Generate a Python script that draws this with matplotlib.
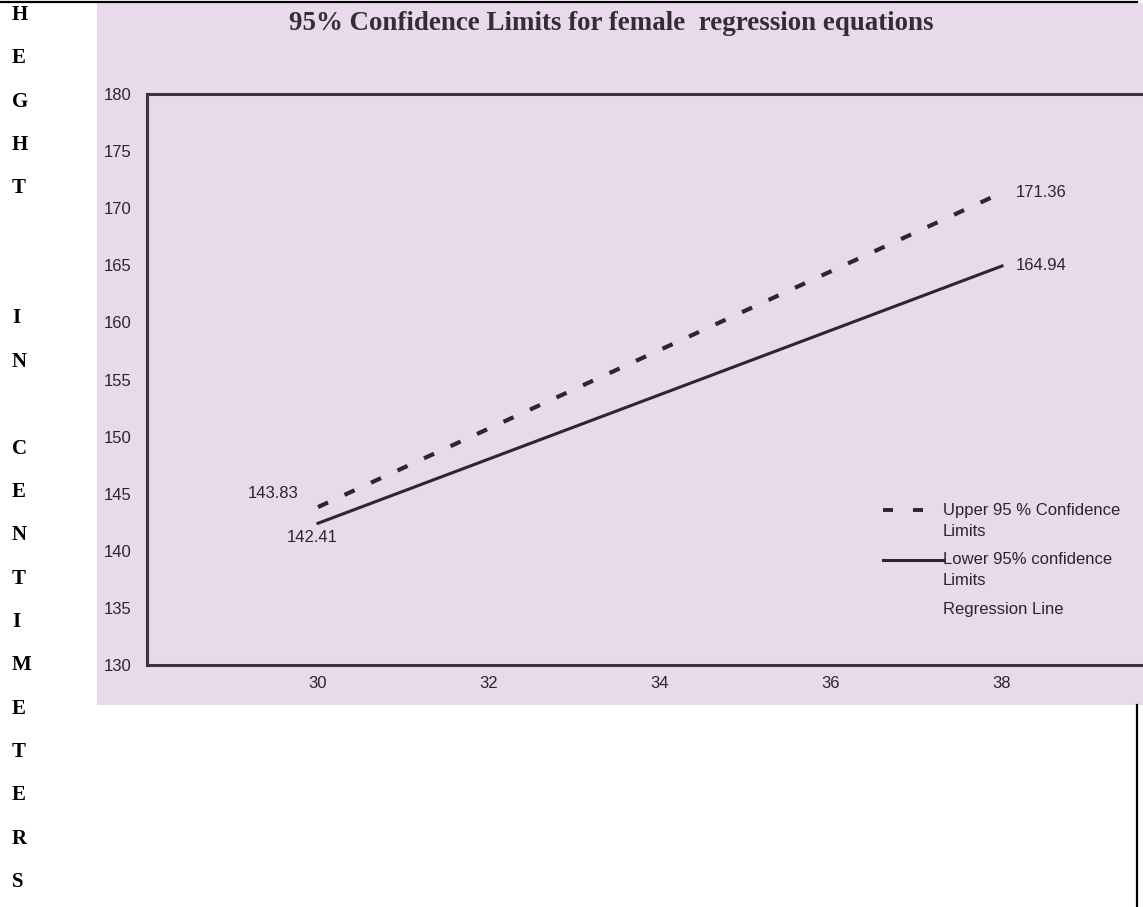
import numpy as np
import matplotlib
matplotlib.use("Agg")
import matplotlib.pyplot as plt
from matplotlib.lines import Line2D
from matplotlib.patches import Rectangle
from matplotlib.legend_handler import HandlerLine2D

# ---- data -------------------------------------------------------------
x_values = [30, 38]
upper_limits = [143.83, 171.36]
lower_limits = [142.41, 164.94]
x_ticks = [30, 32, 34, 36, 38]
y_ticks = [130, 135, 140, 145, 150, 155, 160, 165, 170, 175, 180]

title = "95% Confidence Limits for female  regression equations"
side_label = "HEGHT  IN CENTIMETERS"
upper_label = "Upper 95 % Confidence\nLimits"
lower_label = "Lower 95% confidence\nLimits"
regression_label = "Regression Line"

# ---- layout helpers (pixel -> figure fraction) -------------------------
W, H = 1143, 907
def fx(px):
    return px / W
def fy(py):
    return 1 - py / H

paper = "#e8d9eb"
ink = "#2a252b"
sans = ["Liberation Sans", "DejaVu Sans"]
serif = ["Liberation Serif", "DejaVu Serif"]

fig = plt.figure(figsize=(W / 100, H / 100), dpi=100)
fig.patch.set_facecolor("white")

# tinted page region holding the chart
fig.add_artist(Rectangle((fx(97), fy(705)), 1 - fx(97), fy(3) - fy(705),
                         transform=fig.transFigure, facecolor=paper,
                         edgecolor="none", zorder=0))
# rules of the surrounding table
fig.add_artist(Line2D([0, fx(1137)], [fy(2), fy(2)], transform=fig.transFigure,
                      color="black", lw=1.6, zorder=5))
fig.add_artist(Line2D([fx(1137), fx(1137)], [fy(705), 0], transform=fig.transFigure,
                      color="black", lw=1.6, zorder=5))

# vertical axis caption, one letter per row
step = 43.35
for i, ch in enumerate(side_label):
    if ch == " ":
        continue
    fig.text(fx(12), fy(15 + i * step), ch, ha="left", va="center",
             family=serif, weight="bold", fontsize=15, color="black")

fig.text(fx(611), fy(24), title, ha="center", va="center", family=serif,
         weight="bold", fontsize=19.4, color="#332e34")

# ---- axes -------------------------------------------------------------
left_px, right_px = 147, 1143
top_px, bottom_px = 94, 665
px_per_unit = 85.5
ax = fig.add_axes([fx(left_px), fy(bottom_px), fx(right_px) - fx(left_px),
                   fy(top_px) - fy(bottom_px)])
ax.set_facecolor("none")
ax.set_xlim(28, 28 + (right_px - left_px) / px_per_unit)
ax.set_ylim(130, 180)
ax.set_xticks(x_ticks)
ax.set_yticks(y_ticks)
ax.tick_params(length=0, labelsize=12, labelcolor=ink)
ax.tick_params(axis="y", pad=11)
ax.tick_params(axis="x", pad=8)
for lab in ax.get_xticklabels() + ax.get_yticklabels():
    lab.set_family(sans)
for side in ("left", "top", "bottom"):
    ax.spines[side].set_linewidth(2.2)
    ax.spines[side].set_color("#3a353b")
ax.spines["right"].set_visible(False)

line_color = "#2b272c"
ax.plot(x_values, upper_limits, color=line_color, lw=3.0,
        dashes=(2.65, 4.35), dash_capstyle="butt", solid_capstyle="butt")
ax.plot(x_values, lower_limits, color=line_color, lw=2.2)

# value labels at both ends of each limit line
txt = dict(fontsize=12, color=ink, family=sans)
ax.annotate(f"{upper_limits[0]:.2f}", (x_values[0], upper_limits[0]),
            xytext=(-32, 10), textcoords="offset points",
            ha="center", va="center", **txt)
ax.annotate(f"{lower_limits[0]:.2f}", (x_values[0], lower_limits[0]),
            xytext=(-4, -10), textcoords="offset points",
            ha="center", va="center", **txt)
ax.annotate(f"{upper_limits[1]:.2f}", (x_values[1], upper_limits[1]),
            xytext=(10, 0), textcoords="offset points",
            ha="left", va="center", **txt)
ax.annotate(f"{lower_limits[1]:.2f}", (x_values[1], lower_limits[1]),
            xytext=(10, 0), textcoords="offset points",
            ha="left", va="center", **txt)


# ---- legend -----------------------------------------------------------
class FirstLineHandler(HandlerLine2D):
    """Line handle aligned with the first row of a two-row label."""
    def __init__(self, shift=0.0, **kw):
        super().__init__(**kw)
        self.shift = shift

    def create_artists(self, legend, orig_handle, xdescent, ydescent,
                       width, height, fontsize, trans):
        arts = super().create_artists(legend, orig_handle, xdescent, ydescent,
                                      width, height, fontsize, trans)
        for a in arts:
            a.set_ydata(np.asarray(a.get_ydata()) + self.shift)
        return arts


h_upper = Line2D([], [], color=line_color, lw=2.8, dashes=(2.57, 5.14),
                 dash_capstyle="butt")
h_lower = Line2D([], [], color=line_color, lw=2.2)
h_reg = Line2D([], [], linestyle="none")
leg = ax.legend([h_upper, h_lower, h_reg],
                [upper_label, lower_label, regression_label],
                loc="upper left", bbox_to_anchor=(fx(883), fy(503)),
                bbox_transform=fig.transFigure, frameon=False,
                prop={"family": sans, "size": 12},
                handlelength=3.6, handletextpad=0.0, borderpad=0,
                borderaxespad=0, labelspacing=0.8,
                handler_map={h_upper: FirstLineHandler(shift=7.7),
                             h_lower: FirstLineHandler(shift=7.7)})
for t in leg.get_texts():
    t.set_color(ink)
    t.set_linespacing(1.5)

fig.savefig("out.png", dpi=100, facecolor=fig.get_facecolor())
